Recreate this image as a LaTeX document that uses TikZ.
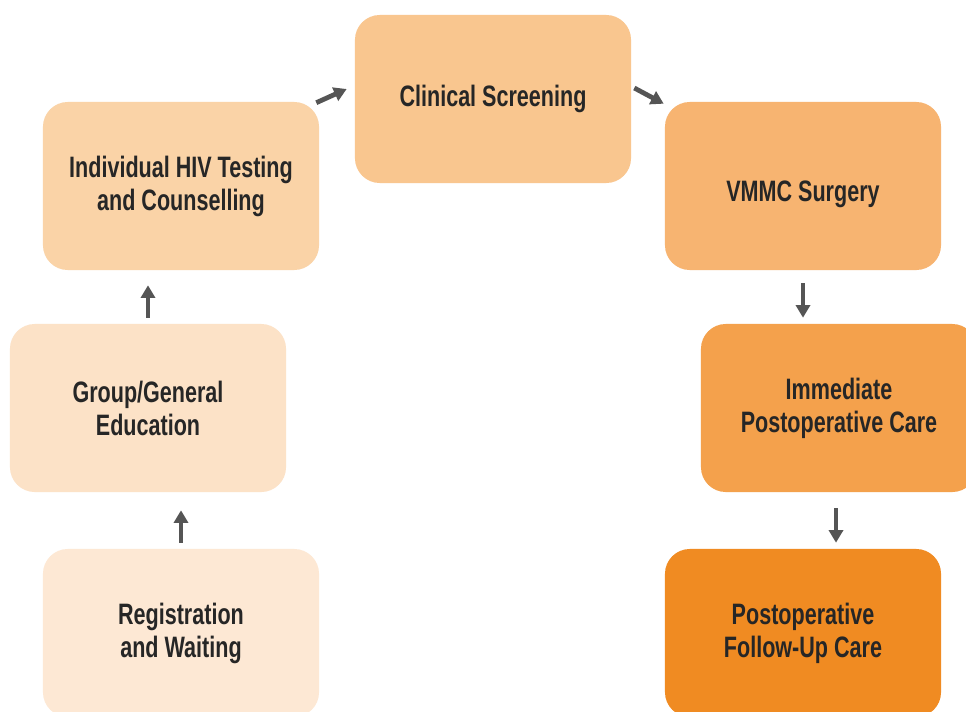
\documentclass[tikz,border=0pt]{standalone}
\usepackage{fontspec}
\setmainfont[FakeStretch=0.73]{Liberation Sans}
\usetikzlibrary{arrows.meta}
\definecolor{regfill}{HTML}{FDE8D4}
\definecolor{groupfill}{HTML}{FCE2C7}
\definecolor{hivfill}{HTML}{FAD3A7}
\definecolor{screenfill}{HTML}{F9C68F}
\definecolor{vmmcfill}{HTML}{F7B471}
\definecolor{immedfill}{HTML}{F4A14C}
\definecolor{followfill}{HTML}{F08B22}
\definecolor{arrowgray}{HTML}{555555}
\definecolor{textdark}{HTML}{262626}

\begin{document}
\begin{tikzpicture}[x=0.025cm,y=-0.025cm]
    \tikzstyle{stage}=[rectangle, rounded corners=0.62cm, minimum width=6.9cm, minimum height=4.2cm,
        align=center, text=textdark, font=\fontsize{21}{23.5}\selectfont\bfseries, inner sep=0pt]
    \tikzstyle{flow}=[draw=arrowgray, line width=3.4pt, -{Triangle[length=9pt,width=10pt]}]
    \clip (0,0) rectangle (966,711);
    \fill[white] (0,0) rectangle (966,711);
    \node[stage, fill=screenfill] (screen) at (493,99) {Clinical Screening};
    \node[stage, fill=hivfill] (hiv) at (181,186) {Individual HIV Testing\\and Counselling};
    \node[stage, fill=vmmcfill] (vmmc) at (803,186) {\rule{0pt}{26pt}VMMC Surgery};
    \node[stage, fill=groupfill] (group) at (148,408) {Group/General\\Education};
    \node[stage, fill=immedfill] (immed) at (839,408) {Immediate\\Postoperative Care};
    \node[stage, fill=regfill] (reg) at (181,633) {Registration\\and Waiting};
    \node[stage, fill=followfill] (follow) at (803,633) {Postoperative\\Follow-Up Care};
    \draw[flow] ([shift={(0,-6)}]reg.north) -- ([shift={(0,18)}]reg.north |- group.south);
    \draw[flow] ([shift={(0,-6)}]group.north) -- ([shift={(0,15)}]group.north |- hiv.south);
    \draw[flow] ([shift={(-3,1)}]hiv.north east) -- ([shift={(-8,-10)}]screen.west);
    \draw[flow] ([shift={(3,-11)}]screen.east) -- ([shift={(-1,2)}]vmmc.north west);
    \draw[flow] ([shift={(0,13)}]vmmc.south) -- ([shift={(0,-6)}]vmmc.south |- immed.north);
    \draw[flow] ([shift={(-3,16)}]immed.south) -- ([shift={(-3,-6)}]immed.south |- follow.north);
\end{tikzpicture}
\end{document}
